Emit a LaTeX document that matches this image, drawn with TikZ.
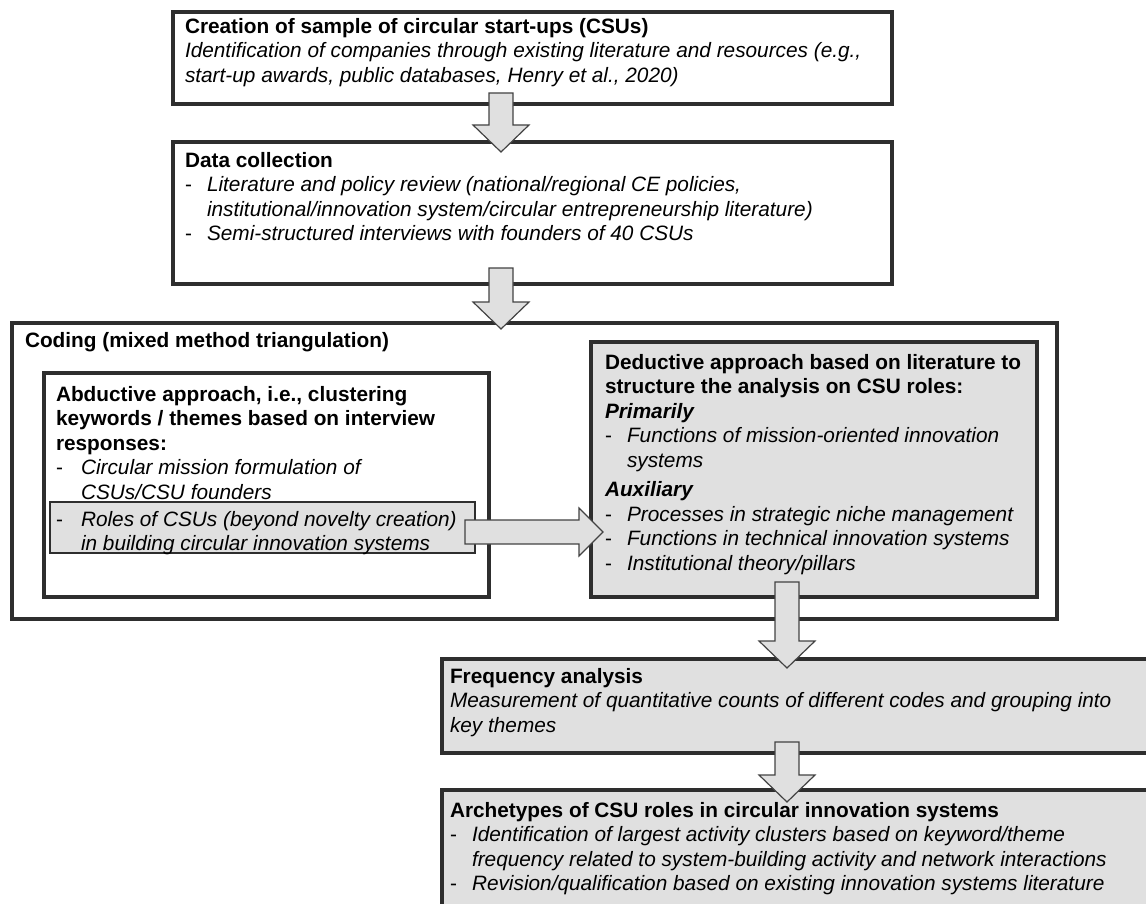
\documentclass[tikz,border=0pt]{standalone}
\usepackage{fontspec}
\setmainfont{Liberation Sans}
\usetikzlibrary{positioning,calc}

\definecolor{boxedge}{HTML}{2E2E2E}
\definecolor{panel}{HTML}{E0E0E0}

% dash bullet and hanging indent for the listed lines
\newcommand{\bul}[1][22pt]{\makebox[#1][l]{-}}
\newcommand{\hang}[1][22pt]{\hspace*{#1}}
% fixed-size text block: width, height, lines
\newcommand{\boxtext}[3]{\parbox[t][#2][t]{#1}{\begin{tabular}[t]{@{}l@{}}#3\end{tabular}}}
% block arrows between named coordinates
\newcommand{\flowdown}[2]{%
  \draw[flow] ($(#1)+(-12,0)$) -- ($(#1)+(12,0)$) -- ($(#2)+(12,-27)$) -- ($(#2)+(28,-27)$)
    -- (#2) -- ($(#2)+(-28,-27)$) -- ($(#2)+(-12,-27)$) -- cycle;}
\newcommand{\flowright}[2]{%
  \draw[flow] ($(#1)+(0,-12)$) -- ($(#2)+(-24,-12)$) -- ($(#2)+(-24,-24)$) -- (#2)
    -- ($(#2)+(-24,24)$) -- ($(#2)+(-24,12)$) -- ($(#1)+(0,12)$) -- cycle;}

\begin{document}
\begin{tikzpicture}[x=1pt,y=-1pt,
    font=\fontsize{20.8}{24.5}\selectfont,
    stage/.style={draw=boxedge, line width=3.4pt, fill=white, anchor=north west,
      outer sep=0pt, inner xsep=12pt, inner ysep=4pt},
    shaded/.style={stage, fill=panel},
    flow/.style={draw=boxedge!90, line width=1.2pt, fill=panel, line join=miter}]
    \useasboundingbox (0,0) rectangle (1146,904);
    \clip (0,0) rectangle (1146,904);

    % Sampling and data collection
    \node[stage] (sample) at (173,12) {\boxtext{695pt}{84pt}{%
      \textbf{Creation of sample of circular start-ups (CSUs)}\\
      \textit{Identification of companies through existing literature and resources (e.g.,}\\
      \textit{start-up awards, public databases, Henry et al., 2020)}}};
    \node[stage, inner ysep=8pt] (collect) at (173,142) {\boxtext{695pt}{126pt}{%
      \textbf{Data collection}\\
      \bul\textit{Literature and policy review (national/regional CE policies,}\\
      \hang\textit{institutional/innovation system/circular entrepreneurship literature)}\\
      \bul\textit{Semi-structured interviews with founders of 40 CSUs}}};

    % Coding frame
    \node[stage, inner xsep=13pt, inner ysep=7pt] (coding) at (12,323) {\boxtext{1019pt}{282pt}{%
      \textbf{Coding (mixed method triangulation)}}};
    \node[stage, line width=3.8pt, inner ysep=11pt] (abduct) at (44,373) {\boxtext{421pt}{202pt}{%
      \textbf{Abductive approach, i.e., clustering}\\
      \textbf{keywords / themes based on interview}\\
      \textbf{responses:}\\
      \bul[25pt]\textit{Circular mission formulation of}\\
      \hang[25pt]\textit{CSUs/CSU founders}}};
    \node[shaded, line width=1.3pt, inner xsep=6pt, inner ysep=7pt] (roles) at (50,502) {\boxtext{413pt}{37pt}{%
      \bul[25pt]\textit{Roles of CSUs (beyond novelty creation)}\\
      \hang[25pt]\textit{in building circular innovation systems}}};
    \node[shaded, line width=3.8pt, inner xsep=14pt, inner ysep=10pt] (deduct) at (591,342) {\boxtext{418pt}{235pt}{%
      \textbf{Deductive approach based on literature to}\\
      \textbf{structure the analysis on CSU roles:}\\
      \textbf{\textit{Primarily}}\\
      \bul\textit{Functions of mission-oriented innovation}\\
      \hang\textit{systems}\\[5pt]
      \textbf{\textit{Auxiliary}}\\
      \bul\textit{Processes in strategic niche management}\\
      \bul\textit{Functions in technical innovation systems}\\
      \bul\textit{Institutional theory/pillars}}};

    % Analysis and results
    \node[shaded, inner xsep=8pt, inner ysep=7pt] (freq) at (442,659) {\boxtext{712pt}{80pt}{%
      \textbf{Frequency analysis}\\
      \textit{Measurement of quantitative counts of different codes and grouping into}\\
      \textit{key themes}}};
    \node[shaded, inner xsep=8pt, inner ysep=10pt] (arche) at (442,790) {\boxtext{712pt}{120pt}{%
      \textbf{Archetypes of CSU roles in circular innovation systems}\\
      \bul\textit{Identification of largest activity clusters based on keyword/theme}\\
      \hang\textit{frequency related to system-building activity and network interactions}\\
      \bul\textit{Revision/qualification based on existing innovation systems literature}}};

    % Arrows
    \coordinate (col1) at (501,0);
    \coordinate (col2) at (787,0);
    \coordinate (a1s) at ($(sample.south -| col1)+(0,-11)$);
    \coordinate (a1e) at ($(collect.north -| col1)+(0,10)$);
    \coordinate (a2s) at ($(collect.south -| col1)+(0,-16)$);
    \coordinate (a2e) at ($(coding.north -| col1)+(0,6)$);
    \coordinate (a3s) at ($(deduct.south -| col2)+(0,-15)$);
    \coordinate (a3e) at ($(freq.north -| col2)+(0,9)$);
    \coordinate (a4s) at ($(freq.south -| col2)+(0,-11)$);
    \coordinate (a4e) at ($(arche.north -| col2)+(0,12)$);
    \coordinate (a5s) at ($(roles.east)+(-10,4.5)$);
    \coordinate (a5e) at ($(deduct.west |- a5s)+(12,0)$);
    \flowdown{a1s}{a1e}
    \flowdown{a2s}{a2e}
    \flowdown{a3s}{a3e}
    \flowdown{a4s}{a4e}
    \flowright{a5s}{a5e}
\end{tikzpicture}
\end{document}
